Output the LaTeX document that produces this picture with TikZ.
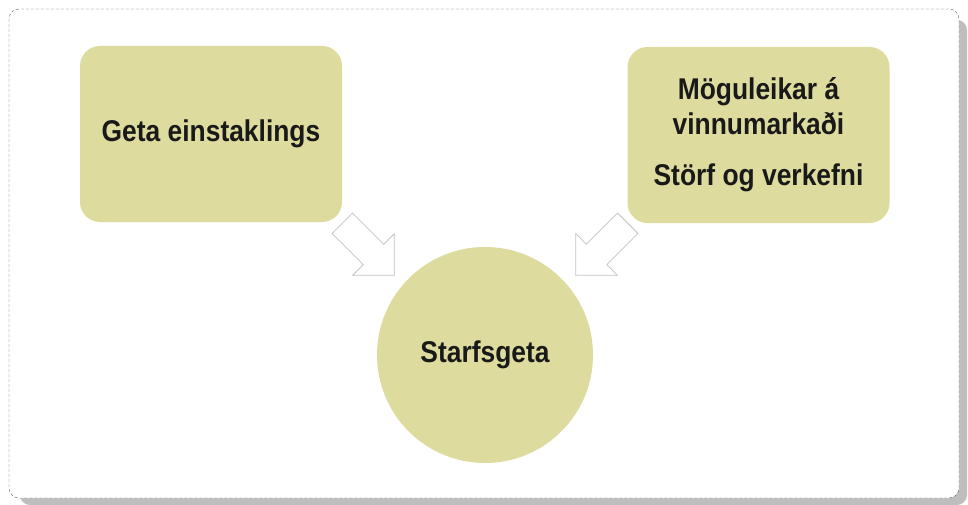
\documentclass[tikz,border=0pt]{standalone}
\usepackage{fontspec}
\newfontfamily\boxfont[FakeStretch=0.88]{Liberation Sans}
\usetikzlibrary{shapes.arrows}
\definecolor{boxolive}{RGB}{221,219,158}
\definecolor{shadowgray}{RGB}{190,190,190}
\definecolor{framegray}{RGB}{95,95,95}
\definecolor{arrowgray}{RGB}{195,195,195}
\definecolor{textblack}{RGB}{25,25,25}

\begin{document}
\begin{tikzpicture}[x=1pt, y=-1pt,
    boxtext/.style={font=\boxfont\bfseries\fontsize{30}{35}\selectfont, text=textblack, align=center},
    box/.style={boxtext, fill=boxolive, rounded corners=20pt, minimum width=262pt, minimum height=176pt, inner sep=0pt},
    hollow arrow/.style={shape=single arrow, draw=arrowgray, fill=white, line width=0.8pt,
      single arrow tip angle=90, single arrow head extend=15pt,
      inner xsep=0pt, inner ysep=14pt, minimum height=73.5pt}]
    \useasboundingbox (0,0) rectangle (968,505);

    % frame and its shadow
    \fill[shadowgray, rounded corners=10pt] (20,20) rectangle (967,505);
    \draw[framegray, fill=white, dash pattern=on 3pt off 2pt, rounded corners=10pt] (9,9) rectangle (959,498);

    \node[box] (geta) at (211,134) {Geta einstaklings};
    \node[box] (moguleikar) at (758.5,135) {Möguleikar á\\vinnumarkaði\\[16pt]Störf og verkefni};
    \node[circle, fill=boxolive, minimum size=216pt, inner sep=0pt, boxtext] (starfsgeta) at (485,355) {Starfsgeta};

    \node[hollow arrow, rotate=-45, anchor=tail] (leftarrow) at (342,223) {};
    \node[hollow arrow, rotate=-135, anchor=tail] (rightarrow) at (628,223) {};
\end{tikzpicture}
\end{document}
